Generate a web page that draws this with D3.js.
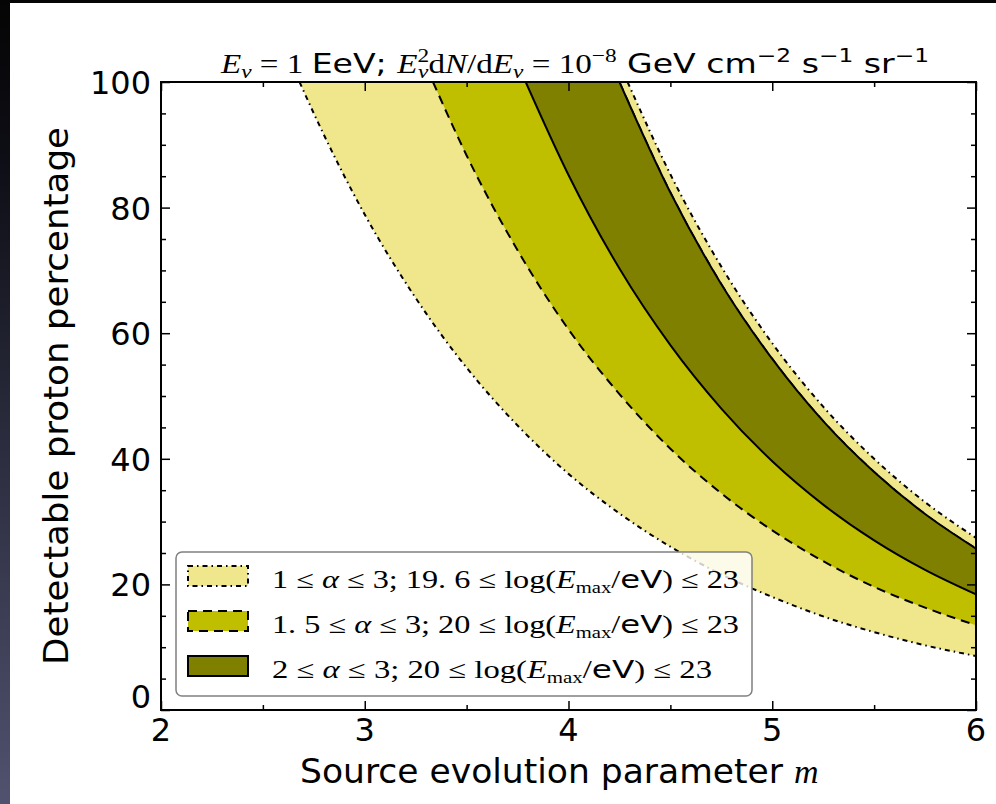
<!DOCTYPE html>
<html>
<head>
<meta charset="utf-8">
<script src="https://cdn.jsdelivr.net/npm/d3@7"></script>
<style>
	body { margin: 0; background: #fff; }
	svg { display: block; }
</style>
</head>
<body>
<script>

// values, [m, percentage]
const band1Lower = [[2.68,100],[2.75,95.0],[3.0,78.9],[3.25,65.6],[3.5,54.5],[3.75,45.3],[4.0,37.6],[4.25,31.3],[4.5,26.0],[4.75,21.6],[5.0,18.0],[5.25,14.9],[5.5,12.4],[5.75,10.3],[6.0,8.6]];
const band1Upper = [[4.29,100],[4.5,85.3],[4.75,70.6],[5.0,58.4],[5.25,48.3],[5.5,40.0],[5.75,33.1],[6.0,27.4]];
const band2Lower = [[3.335,100],[3.5,88.3],[3.75,73.2],[4.0,60.6],[4.25,50.3],[4.5,41.6],[4.75,34.5],[5.0,28.6],[5.25,23.7],[5.5,19.6],[5.75,16.3],[6.0,13.5]];
const band3Lower = [[3.79,100],[4.0,85.2],[4.25,70.3],[4.5,58.1],[4.75,48.0],[5.0,39.6],[5.25,32.7],[5.5,27.0],[5.75,22.3],[6.0,18.4]];
const band3Upper = [[4.25,100],[4.5,82.4],[4.75,67.8],[5.0,55.9],[5.25,46.0],[5.5,37.9],[5.75,31.2],[6.0,25.7]];
const band2Upper = band3Upper;

const xTicks = [2, 3, 4, 5, 6];
const xMinor = [2.5, 3.5, 4.5, 5.5];
const yTicks = [0, 20, 40, 60, 80, 100];
const yMinor = [5,10,15,25,30,35,45,50,55,65,70,75,85,90,95];

// legend labels as [text, style] pieces: s = serif, i = serif italic, b = subscript, a = sans
const legendLabels = [
	[['1 \u2264 ', 's'], ['\u03b1', 'i'], [' \u2264 3; 19. 6 \u2264 log(', 's'], ['E', 'i'], ['max', 'b'], ['/', 's'], ['eV', 'a'], [') \u2264 23', 's']],
	[['1. 5 \u2264 ', 's'], ['\u03b1', 'i'], [' \u2264 3; 20 \u2264 log(', 's'], ['E', 'i'], ['max', 'b'], ['/', 's'], ['eV', 'a'], [') \u2264 23', 's']],
	[['2 \u2264 ', 's'], ['\u03b1', 'i'], [' \u2264 3; 20 \u2264 log(', 's'], ['E', 'i'], ['max', 'b'], ['/', 's'], ['eV', 'a'], [') \u2264 23', 's']]
];
const legendLengths = [467, 467, 440];

const bandColors = ['#f0e68c', '#bfbf00', '#808000'];
const bandDash = ['5,4,1.5,4', '9,6', null];

const width = 996;
const height = 804;
const serif = "'Liberation Serif', 'DejaVu Serif', serif";
const sans = "'DejaVu Sans', sans-serif";

const svg = d3.select('body')
	.append('svg')
	.attr('width', width)
	.attr('height', height);

// dark strips at the edges of the picture
const defs = svg.append('defs');
const grad = defs.append('linearGradient')
	.attr('id', 'edge')
	.attr('x1', 0).attr('y1', 0).attr('x2', 0).attr('y2', 1);
grad.append('stop').attr('offset', 0).attr('stop-color', '#050505');
grad.append('stop').attr('offset', 0.2).attr('stop-color', '#0e0e16');
grad.append('stop').attr('offset', 1).attr('stop-color', '#50526f');

svg.append('rect').attr('x', 0).attr('y', 0).attr('width', width).attr('height', 3).attr('fill', '#050505');
svg.append('rect').attr('x', 0).attr('y', 0).attr('width', 10).attr('height', height).attr('fill', 'url(#edge)');

const xScale = d3.scaleLinear().domain([2, 6]).range([161, 976]);
const yScale = d3.scaleLinear().domain([0, 100]).range([710, 82]);

defs.append('clipPath').attr('id', 'plot')
	.append('rect')
	.attr('x', 161).attr('y', 82)
	.attr('width', 976 - 161).attr('height', 710 - 82);

const line = d3.line()
	.x(d => xScale(d[0]))
	.y(d => yScale(d[1]))
	.curve(d3.curveMonotoneX);

const bands = [
	[band1Lower, band1Upper],
	[band2Lower, band2Upper],
	[band3Lower, band3Upper]
];

const plot = svg.append('g').attr('clip-path', 'url(#plot)');

bands.forEach((b, i) => {
	const fillPath = line(b[0]) + line(b[1].slice().reverse()).replace('M', 'L') + 'Z';
	plot.append('path')
		.attr('d', fillPath)
		.attr('fill', bandColors[i]);
	b.forEach(edge => {
		plot.append('path')
			.attr('d', line(edge))
			.attr('fill', 'none')
			.attr('stroke', '#000')
			.attr('stroke-width', 2)
			.attr('stroke-dasharray', bandDash[i]);
	});
});

// ticks, pointing inwards on all four sides
function ticks(axis, vals, size, transform) {
	svg.append('g')
		.attr('transform', transform)
		.call(axis.tickValues(vals).tickSize(size).tickFormat(''))
		.call(g => g.select('.domain').remove())
		.call(g => g.selectAll('line').attr('stroke', '#000').attr('stroke-width', 1.5));
}
ticks(d3.axisBottom(xScale), xTicks, -9, 'translate(0,710)');
ticks(d3.axisBottom(xScale), xMinor, -5, 'translate(0,710)');
ticks(d3.axisTop(xScale), xTicks, -9, 'translate(0,82)');
ticks(d3.axisTop(xScale), xMinor, -5, 'translate(0,82)');
ticks(d3.axisLeft(yScale), yTicks, -9, 'translate(161,0)');
ticks(d3.axisLeft(yScale), yMinor, -5, 'translate(161,0)');
ticks(d3.axisRight(yScale), yTicks, -9, 'translate(976,0)');
ticks(d3.axisRight(yScale), yMinor, -5, 'translate(976,0)');

svg.append('rect')
	.attr('x', 161).attr('y', 82)
	.attr('width', 976 - 161).attr('height', 710 - 82)
	.attr('fill', 'none')
	.attr('stroke', '#000')
	.attr('stroke-width', 2);

// tick labels
svg.selectAll('.ylab')
	.data(yTicks)
	.enter()
	.append('text')
	.attr('class', 'ylab')
	.attr('x', 151)
	.attr('y', d => (d === 0 ? yScale(d) - 14 : yScale(d)) + 12)
	.attr('text-anchor', 'end')
	.attr('font-family', sans)
	.attr('font-size', 32)
	.text(d => d);

svg.selectAll('.xlab')
	.data(xTicks)
	.enter()
	.append('text')
	.attr('class', 'xlab')
	.attr('x', d => xScale(d))
	.attr('y', 741)
	.attr('text-anchor', 'middle')
	.attr('font-family', sans)
	.attr('font-size', 32)
	.text(d => d);

// axis titles
svg.append('text')
	.attr('transform', 'translate(68,396) rotate(-90)')
	.attr('text-anchor', 'middle')
	.attr('font-family', sans)
	.attr('font-size', 33)
	.attr('textLength', 538)
	.attr('lengthAdjust', 'spacingAndGlyphs')
	.text('Detectable proton percentage');

const xt = svg.append('text')
	.attr('x', 300)
	.attr('y', 783)
	.attr('font-family', sans)
	.attr('font-size', 33);
xt.append('tspan').attr('textLength', 494).attr('lengthAdjust', 'spacingAndGlyphs').text('Source evolution parameter ');
xt.append('tspan').attr('font-family', serif).attr('font-style', 'italic').attr('font-size', 34).text('m');

// title with mixed math / sans pieces
const title = svg.append('text')
	.attr('x', 221)
	.attr('y', 73)
	.attr('font-size', 27)
	.attr('textLength', 708)
	.attr('lengthAdjust', 'spacingAndGlyphs');

function piece(el, t, fam, opts) {
	opts = opts || {};
	const sp = el.append('tspan').attr('font-family', fam).text(t);
	if (opts.it) sp.attr('font-style', 'italic');
	if (opts.size) sp.attr('font-size', opts.size);
	if (opts.dy) sp.attr('dy', opts.dy);
	if (opts.dx) sp.attr('dx', opts.dx);
	return sp;
}
piece(title, 'E', serif, {it: true});
piece(title, '\u03bd', serif, {it: true, size: 19, dy: 5});
piece(title, ' = 1 ', serif, {dy: -5});
piece(title, 'EeV; ', sans);
piece(title, 'E', serif, {it: true});
piece(title, '2', serif, {size: 19, dy: -11});
piece(title, '\u03bd', serif, {it: true, size: 19, dy: 16, dx: -9});
piece(title, 'd', serif, {dy: -5});
piece(title, 'N', serif, {it: true});
piece(title, '/d', serif);
piece(title, 'E', serif, {it: true});
piece(title, '\u03bd', serif, {it: true, size: 19, dy: 5});
piece(title, ' = 10', serif, {dy: -5});
piece(title, '\u22128', serif, {size: 19, dy: -11});
piece(title, ' GeV cm', sans, {dy: 11});
piece(title, '\u22122', sans, {size: 19, dy: -11});
piece(title, ' s', sans, {dy: 11});
piece(title, '\u22121', sans, {size: 19, dy: -11});
piece(title, ' sr', sans, {dy: 11});
piece(title, '\u22121', sans, {size: 19, dy: -11});

// legend
const legend = svg.append('g');
legend.append('rect')
	.attr('x', 176).attr('y', 552)
	.attr('width', 576).attr('height', 144)
	.attr('rx', 6)
	.attr('fill', '#fff')
	.attr('fill-opacity', 0.8)
	.attr('stroke', '#808080')
	.attr('stroke-width', 1.5);

legendLabels.forEach((parts, i) => {
	const cy = 576 + i * 45;
	legend.append('rect')
		.attr('x', 188).attr('y', cy - 10)
		.attr('width', 60).attr('height', 20)
		.attr('fill', bandColors[i])
		.attr('stroke', '#000')
		.attr('stroke-width', 2)
		.attr('stroke-dasharray', bandDash[i]);
	const t = legend.append('text')
		.attr('x', 272)
		.attr('y', cy + 12)
		.attr('font-size', 25)
		.attr('textLength', legendLengths[i])
		.attr('lengthAdjust', 'spacingAndGlyphs');
	let sub = false;
	parts.forEach(p => {
		const fam = p[1] === 'a' ? sans : serif;
		const sp = t.append('tspan').attr('font-family', fam).text(p[0]);
		if (p[1] === 'i') sp.attr('font-style', 'italic');
		if (p[1] === 'b') { sp.attr('font-size', 16).attr('dy', 5); sub = true; }
		else if (sub) { sp.attr('dy', -5); sub = false; }
	});
});

</script>
</body>
</html>
